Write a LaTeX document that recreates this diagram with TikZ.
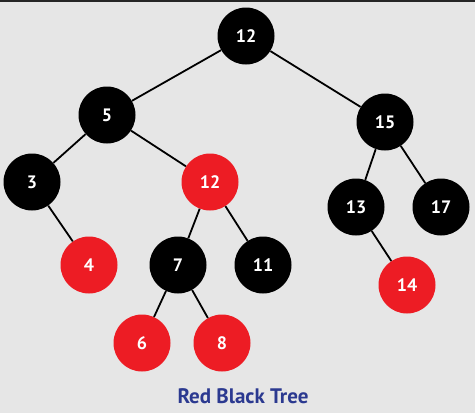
\documentclass[tikz,border=0pt]{standalone}
\usepackage{fontspec}
\setmainfont{PT Sans}
\definecolor{bg}{HTML}{E6E6E6}
\definecolor{rbred}{HTML}{ED1C24}
\definecolor{rbtitle}{HTML}{2B3990}
\begin{document}
\begin{tikzpicture}[x=1pt,y=-1pt,
  nd/.style={circle,minimum size=57pt,inner sep=0pt,text=white,font=\fontsize{18}{18}\selectfont\bfseries},
  bk/.style={nd,fill=black},
  rd/.style={nd,fill=rbred},
  edge/.style={line width=1.8pt,black}]
\fill[bg] (0,0) rectangle (475,413);
\fill[black!85] (0,0) rectangle (475,1.5);
\useasboundingbox (0,0) rectangle (475,413);
\node[bk] (n12) at (246,36) {12};
\node[bk] (n5) at (107,115) {5};
\node[bk] (n15) at (385,122) {15};
\node[bk] (n3) at (32,182) {3};
\node[rd] (n12r) at (210,182) {12};
\node[bk] (n13) at (356,207) {13};
\node[bk] (n17) at (441,207) {17};
\node[rd] (n4) at (89,265) {4};
\node[bk] (n7) at (178,265) {7};
\node[bk] (n11) at (263,265) {11};
\node[rd] (n14) at (407,285) {14};
\node[rd] (n6) at (142,343) {6};
\node[rd] (n8) at (222,343) {8};
\node[text=rbtitle,font=\fontsize{21}{21}\selectfont\bfseries] (title) at (243,396) {Red Black Tree};
\draw[edge] (n12) -- (n5);
\draw[edge] (n12) -- (n15);
\draw[edge] (n5) -- (n3);
\draw[edge] (n5) -- (n12r);
\draw[edge] (n3) -- (n4);
\draw[edge] (n12r) -- (n7);
\draw[edge] (n12r) -- (n11);
\draw[edge] (n7) -- (n6);
\draw[edge] (n7) -- (n8);
\draw[edge] (n15) -- (n13);
\draw[edge] (n15) -- (n17);
\draw[edge] (n13) -- (n14);
\end{tikzpicture}
\end{document}
